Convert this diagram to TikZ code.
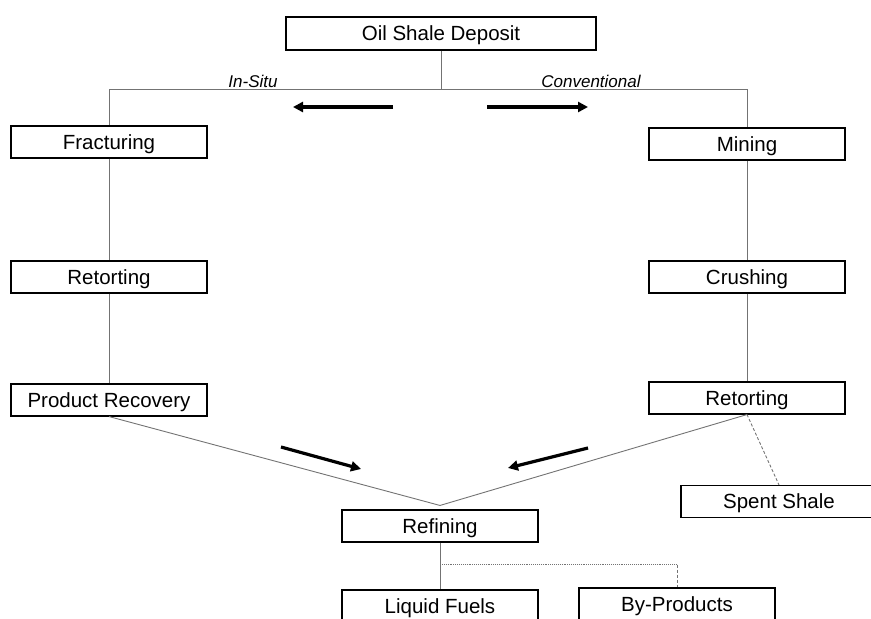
\documentclass[tikz,border=0pt]{standalone}
\usepackage{fontspec}
\setmainfont{Liberation Sans}
\usetikzlibrary{arrows.meta}
\begin{document}
\begin{tikzpicture}[x=1pt, y=-1pt,
  box/.style={draw, line width=1.1pt, minimum width=196pt, minimum height=32pt, inner sep=0pt, text height=15pt, text depth=0.6pt, font=\fontsize{20.5}{24}\selectfont},
  link/.style={draw=black!55, line width=0.9pt},
  route/.style={font=\fontsize{17}{20}\selectfont\itshape},
  flow/.style={line width=3.2pt, -{Triangle[length=10pt, width=10pt]}}]
\useasboundingbox (0,0) rectangle (871,619);
\node[box, minimum width=310pt, minimum height=33pt] (deposit) at (441,33.5) {Oil Shale Deposit};
% in-situ column
\node[box] (frac) at (109,142) {Fracturing};
\node[box] (lretort) at (109,277) {Retorting};
\node[box] (recovery) at (109,400) {Product Recovery};
% conventional column
\node[box] (mining) at (747,144) {Mining};
\node[box] (crushing) at (747,277) {Crushing};
\node[box] (rretort) at (747,398) {Retorting};
\node[box] (spent) at (779,501.5) {Spent Shale};
% products
\node[box] (refining) at (440,526) {Refining};
\node[box] (fuels) at (440,606) {Liquid Fuels};
\node[box] (byprod) at (677,604) {By-Products};
\draw[link] (deposit.south) -- ++(0,39) coordinate (split);
\draw[link] (split) -| (frac.north);
\draw[link] (split) -| (mining.north);
\node[route] (insitu) at (253,81) {In-Situ};
\node[route] (conv) at (591,81) {Conventional};
\draw[link] (frac) -- (lretort);
\draw[link] (lretort) -- (recovery);
\draw[link] (mining) -- (crushing);
\draw[link] (crushing) -- (rretort);
\coordinate (merge) at ([yshift=4pt]refining.north);
\draw[link] (recovery.south) -- (merge);
\draw[link] (rretort.south) -- (merge);
\draw[link, densely dashed] (rretort.south) -- (spent.north);
\draw[link] (refining) -- (fuels);
\coordinate (fork) at ([yshift=-22pt]refining.south);
\draw[link, densely dotted] (fork) -- (fork -| byprod.north) coordinate (turn);
\draw[link, densely dashed] (turn) -- (byprod.north);
% direction arrows
\draw[flow] (393,107) -- (293,107);
\draw[flow] (487,107) -- (588,107);
\draw[flow] (281,447) -- (361,469);
\draw[flow] (588,448) -- (508,468);
\end{tikzpicture}
\end{document}
